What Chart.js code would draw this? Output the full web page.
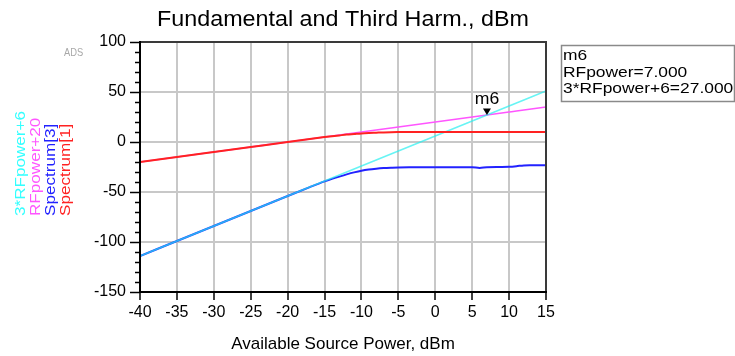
<!DOCTYPE html>
<html>
<head>
<meta charset="utf-8">
<script src="https://cdn.jsdelivr.net/npm/chart.js@4.4.0/dist/chart.umd.min.js"></script>
<style>
  html, body { margin: 0; padding: 0; background: #fff; overflow: hidden; }
  canvas { display: block; }
</style>
</head>
<body>
<canvas id="chart" width="735" height="356"></canvas>
<script>
// Swept source power, dBm
const power = [-40, -35, -30, -25, -20, -17, -15, -14, -13, -12, -11, -10, -9, -8, -7, -6, -5, -3, 0, 3, 5, 6, 7, 9, 10, 11, 12, 13, 15];

// Ideal third-harmonic line: 3*RFpower+6
const thirdIdeal = [-114, -99, -84, -69, -54, -45, -39, -36, -33, -30, -27, -24, -21, -18, -15, -12, -9, -3, 6, 15, 21, 24, 27, 33, 36, 39, 42, 45, 51];

// Ideal fundamental line: RFpower+20
const fundIdeal = [-20, -15, -10, -5, 0, 3, 5, 6, 7, 8, 9, 10, 11, 12, 13, 14, 15, 17, 20, 23, 25, 26, 27, 29, 30, 31, 32, 33, 35];

// Simulated third harmonic, Spectrum[3]
const spectrum3 = [-114, -99, -84, -69, -54, -45.1, -39.4, -36.9, -34.6, -32.4, -30.4, -28.7, -27.5, -26.7, -26.1, -25.7, -25.4, -25.3, -25.2, -25.2, -25.2, -25.9, -25.2, -25.0, -24.8, -24.2, -23.4, -23.3, -23.2];

// Simulated fundamental, Spectrum[1]
const spectrum1 = [-20, -15, -10, -5, 0, 3, 4.9, 5.8, 6.6, 7.4, 8.0, 8.6, 9.0, 9.3, 9.6, 9.8, 9.9, 10, 10, 10, 10, 10, 10, 10, 10, 10, 10, 10, 10];

const xTickValues = [-40, -35, -30, -25, -20, -15, -10, -5, 0, 5, 10, 15];
const yTickValues = [-150, -100, -50, 0, 50, 100];
const yMinorStep = 10;

const seriesNames = ['3*RFpower+6', 'RFpower+20', 'Spectrum[3]', 'Spectrum[1]'];
const seriesColors = ['#33ffff', '#ff55ff', '#2222ff', '#ff2222'];

const markerName = 'm6';
const markerPower = 7;
const markerValue = 27;
const readoutLines = ['m6', 'RFpower=7.000', '3*RFpower+6=27.000'];

const chartTitle = 'Fundamental and Third Harm., dBm';
const xAxisTitle = 'Available Source Power, dBm';
const toolTag = 'ADS';

const FONT = '"Liberation Sans", Arial, sans-serif';

function pts(ys) { return power.map((p, i) => ({ x: p, y: ys[i] })); }

// Draws a string with a horizontal stretch factor
function stretchedText(ctx, text, x, y, size, stretch, align) {
  ctx.save();
  ctx.font = size + 'px ' + FONT;
  const w = ctx.measureText(text).width * stretch;
  let x0 = x;
  if (align === 'center') x0 = x - w / 2;
  else if (align === 'right') x0 = x - w;
  ctx.translate(x0, y);
  ctx.scale(stretch, 1);
  ctx.textAlign = 'left';
  ctx.textBaseline = 'alphabetic';
  ctx.fillText(text, 0, 0);
  ctx.restore();
}

const decorations = {
  id: 'decorations',
  beforeDraw(chart) {
    const ctx = chart.ctx;
    ctx.save();
    ctx.fillStyle = '#fff';
    ctx.fillRect(0, 0, chart.width, chart.height);
    ctx.restore();
  },
  afterDraw(chart) {
    const ctx = chart.ctx;
    const a = chart.chartArea;
    const xs = chart.scales.x, ys = chart.scales.y;
    ctx.save();

    // y tick marks: major every 50, minor every 10
    ctx.strokeStyle = '#000';
    ctx.lineWidth = 1.5;
    for (let v = ys.min; v <= ys.max + 1e-9; v += yMinorStep) {
      const y = Math.round(ys.getPixelForValue(v)) + 0.5;
      const major = yTickValues.includes(v);
      ctx.beginPath();
      ctx.moveTo(a.left - (major ? 10 : 5), y);
      ctx.lineTo(a.left, y);
      ctx.stroke();
    }

    // plot frame
    ctx.lineWidth = 2;
    ctx.strokeStyle = '#3a3a3a';
    ctx.beginPath();
    ctx.moveTo(a.left, a.top);
    ctx.lineTo(a.right, a.top);
    ctx.lineTo(a.right, a.bottom);
    ctx.stroke();
    ctx.strokeStyle = '#000';
    ctx.beginPath();
    ctx.moveTo(a.left, a.top - 1);
    ctx.lineTo(a.left, a.bottom);
    ctx.lineTo(a.right + 1, a.bottom);
    ctx.stroke();

    // marker m6
    const mx = xs.getPixelForValue(markerPower);
    const my = ys.getPixelForValue(markerValue);
    ctx.fillStyle = '#000';
    ctx.beginPath();
    ctx.moveTo(mx, my);
    ctx.lineTo(mx - 4, my - 6.5);
    ctx.lineTo(mx + 4, my - 6.5);
    ctx.closePath();
    ctx.fill();
    stretchedText(ctx, markerName, mx, my - 11.5, 16, 1.1, 'center');

    // title and axis title
    ctx.fillStyle = '#000';
    stretchedText(ctx, chartTitle, (a.left + a.right) / 2, 26, 22, 1.06, 'center');
    stretchedText(ctx, xAxisTitle, (a.left + a.right) / 2, 349, 17, 1.0, 'center');

    // tool tag
    ctx.fillStyle = '#a8a8a8';
    stretchedText(ctx, toolTag, 64, 56, 11, 0.85, 'left');

    // rotated series names
    const baseX = [25, 40, 55, 70];
    seriesNames.forEach((name, i) => {
      ctx.save();
      ctx.fillStyle = seriesColors[i];
      ctx.translate(baseX[i], 216);
      ctx.rotate(-Math.PI / 2);
      stretchedText(ctx, name, 0, 0, 15, 1.14, 'left');
      ctx.restore();
    });

    // marker readout box
    ctx.strokeStyle = '#8a8a8a';
    ctx.lineWidth = 1.5;
    ctx.strokeRect(561.5, 45.5, 173, 56);
    ctx.fillStyle = '#000';
    const baselines = [60, 76.7, 93.3];
    readoutLines.forEach((t, i) => stretchedText(ctx, t, 563, baselines[i], 14.5, 1.2, 'left'));

    ctx.restore();
  }
};

new Chart(document.getElementById('chart'), {
  type: 'line',
  data: {
    datasets: [
      { label: seriesNames[3], data: pts(spectrum1), borderColor: seriesColors[3], borderWidth: 2, order: 0 },
      { label: seriesNames[0], data: pts(thirdIdeal), borderColor: 'rgba(40,240,240,0.7)', borderWidth: 1.6, order: 1 },
      { label: seriesNames[1], data: pts(fundIdeal), borderColor: seriesColors[1], borderWidth: 1.6, order: 2 },
      { label: seriesNames[2], data: pts(spectrum3), borderColor: seriesColors[2], borderWidth: 2, order: 3 }
    ]
  },
  options: {
    responsive: false,
    animation: false,
    devicePixelRatio: 1,
    layout: { padding: { top: 42, right: 189, left: 0, bottom: 0 } },
    elements: {
      point: { radius: 0, hoverRadius: 0 },
      line: { fill: false, cubicInterpolationMode: 'monotone' }
    },
    plugins: { legend: { display: false }, tooltip: { enabled: false }, title: { display: false } },
    events: [],
    scales: {
      x: {
        type: 'linear',
        min: -40,
        max: 15,
        afterBuildTicks: s => { s.ticks = xTickValues.map(v => ({ value: v })); },
        afterFit: s => { s.height = 64; },
        border: { display: false },
        grid: { color: '#c8c8c8', lineWidth: 2, tickLength: 8, tickColor: '#000', tickWidth: 1.5 },
        ticks: { color: '#000', font: { family: FONT, size: 16 }, padding: 3, maxRotation: 0, autoSkip: false }
      },
      y: {
        type: 'linear',
        min: -150,
        max: 100,
        afterBuildTicks: s => { s.ticks = yTickValues.map(v => ({ value: v })); },
        afterFit: s => { s.width = 140; },
        border: { display: false },
        grid: { color: '#c8c8c8', lineWidth: 2, drawTicks: false },
        ticks: { color: '#000', font: { family: FONT, size: 16 }, padding: 14 }
      }
    }
  },
  plugins: [decorations]
});
</script>
</body>
</html>
